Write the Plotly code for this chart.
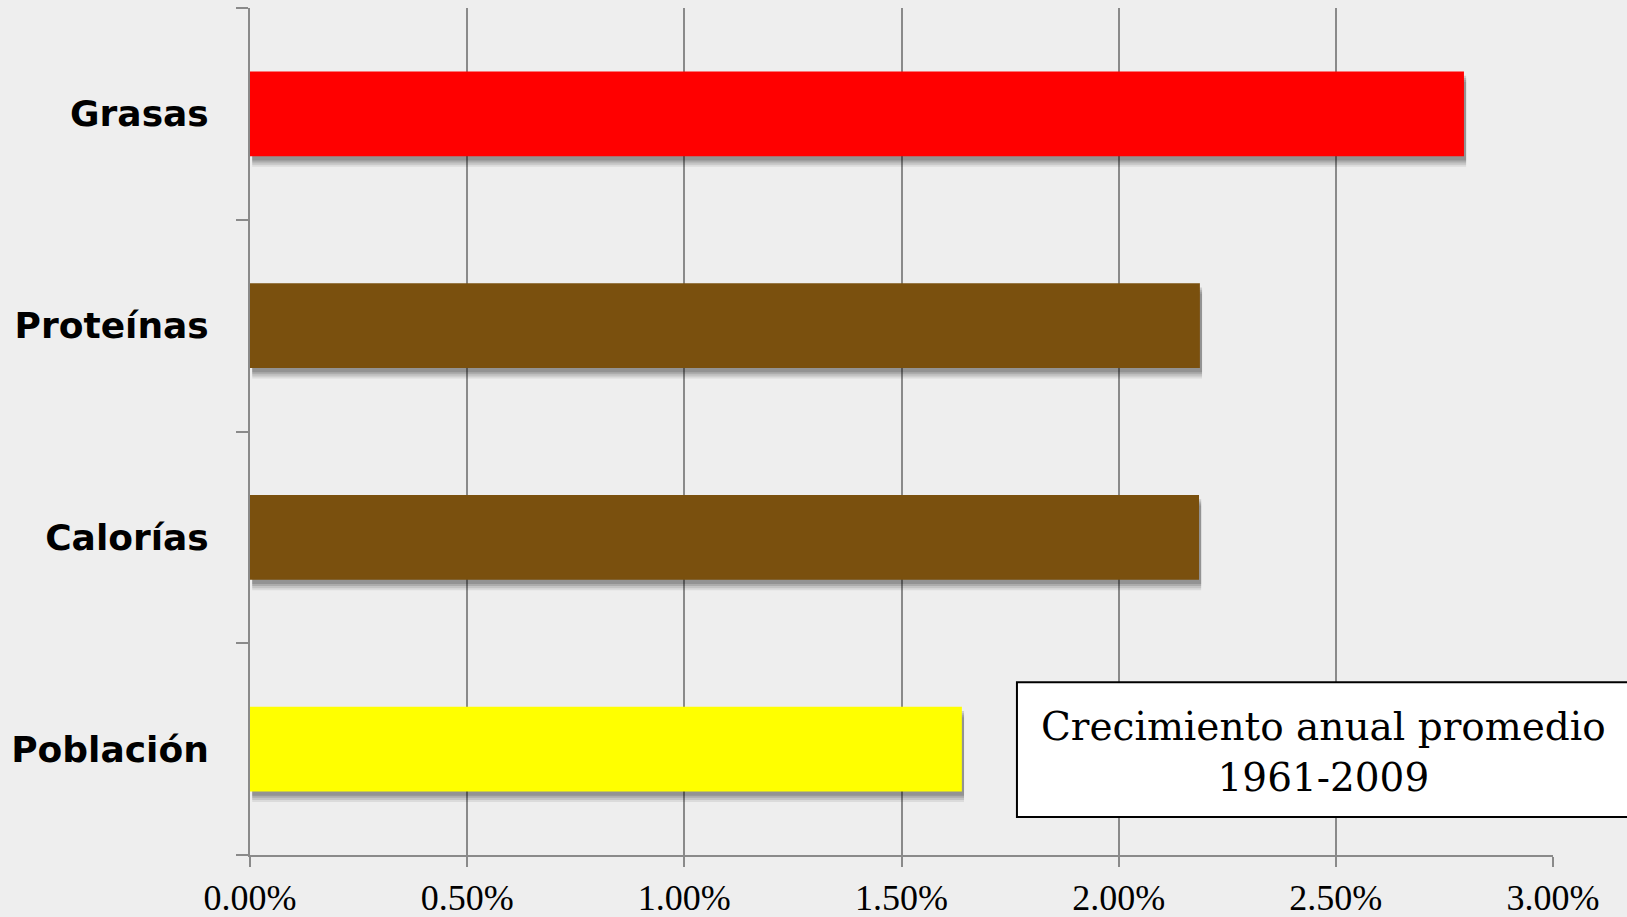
import plotly.graph_objects as go

categories = ["Población", "Calorías", "Proteínas", "Grasas"]
growth = [0.01639, 0.02185, 0.02187, 0.02795]
bar_colors = ["#FFFF00", "#7A500E", "#7A500E", "#FF0000"]
tick_vals = [0, 0.005, 0.01, 0.015, 0.02, 0.025, 0.03]
tick_text = ["0.00%", "0.50%", "1.00%", "1.50%", "2.00%", "2.50%", "3.00%"]
box_title = "Crecimiento anual promedio<br>1961-2009"

fig = go.Figure()

# soft drop shadow layers
for off, alpha in [(0.05, 0.08), (0.04, 0.10), (0.03, 0.12), (0.02, 0.14)]:
    fig.add_trace(go.Bar(
        x=growth, y=categories, orientation="h",
        width=0.4, offset=-0.2 - off,
        base=[0.00005] * len(growth),
        marker=dict(color=f"rgba(0,0,0,{alpha})", line=dict(width=0)),
        hoverinfo="skip", showlegend=False,
    ))

fig.add_trace(go.Bar(
    x=growth, y=categories, orientation="h",
    width=0.4, offset=-0.2,
    marker=dict(color=bar_colors, line=dict(width=0)),
    showlegend=False,
))

fig.update_layout(
    width=1627, height=917,
    margin=dict(l=250, r=74, t=8, b=62),
    paper_bgcolor="#EEEEEE", plot_bgcolor="#EEEEEE",
    barmode="overlay",
    xaxis=dict(
        range=[0, 0.03], tickvals=tick_vals, ticktext=tick_text,
        showgrid=True, gridcolor="#8A8A8A", gridwidth=2,
        showline=True, linecolor="#8A8A8A", linewidth=2,
        ticks="outside", ticklen=10, tickcolor="#8A8A8A", tickwidth=2,
        zeroline=False, ticklabelstandoff=0, automargin=False,
        tickfont=dict(family="Liberation Serif", size=36, color="#000000"),
    ),
    yaxis=dict(
        range=[-0.5, 3.5], categoryorder="array", categoryarray=categories,
        showline=True, linecolor="#8A8A8A", linewidth=2,
        ticks="outside", ticklen=12, tickcolor="#8A8A8A", tickwidth=2,
        tickson="boundaries", showgrid=False, automargin=False,
        ticklabelstandoff=32,
        tickfont=dict(family="DejaVu Sans", size=36, color="#000000", weight="bold"),
    ),
    shapes=[dict(
        type="rect", xref="paper", yref="paper",
        x0=0.5886, x1=1.06, y0=0.0449, y1=0.204,
        fillcolor="#FFFFFF", line=dict(color="#000000", width=2), layer="above",
    )],
    annotations=[dict(
        text=box_title, xref="paper", yref="paper",
        x=0.8235, y=0.122, xanchor="center", yanchor="middle",
        showarrow=False, align="center",
        font=dict(family="DejaVu Serif", size=39, color="#000000"),
    )],
)

fig.write_html(
    "out.html",
    config={"displayModeBar": False},
    post_script="document.body.style.margin='0';document.body.style.background='#EEEEEE';",
)
